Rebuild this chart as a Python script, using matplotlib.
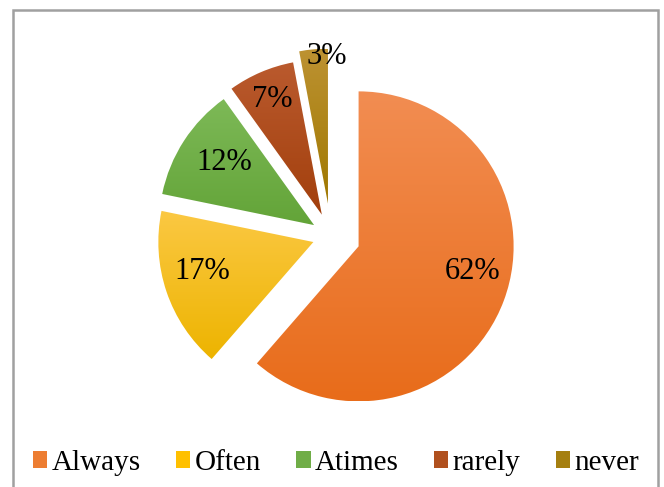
import numpy as np
import matplotlib.pyplot as plt
from matplotlib.colors import LinearSegmentedColormap
from matplotlib.patches import Patch, Rectangle

categories = ['Always', 'Often', 'Atimes', 'rarely', 'never']
shares = [62, 17, 12, 7, 3]

# slice shading: lighter at the top, deeper at the bottom
top_colors = ['#F28D52', '#FBC843', '#7DB957', '#BA5A2E', '#BD9232']
bottom_colors = ['#E86C1A', '#EDB400', '#63A438', '#A23F0C', '#9F7800']
key_colors = ['#ED7D31', '#FFC000', '#70AD47', '#B0501E', '#A57F10']
explode = [0.19, 0.12, 0.13, 0.15, 0.21]
label_r = [0.75, 0.74, 0.71, 0.81, 0.95]
label_turn = [8, -4, -2, 0, -5]

plt.rcParams['font.family'] = ['Liberation Serif', 'DejaVu Serif']

fig = plt.figure(figsize=(6.64, 4.87), dpi=100)
ax = fig.add_axes([0, 0, 1, 1])

wedges, _ = ax.pie(shares, startangle=90, counterclock=False,
                   explode=explode, radius=1)

for w, c_top, c_bot in zip(wedges, top_colors, bottom_colors):
    bb = w.get_path().get_extents()
    cmap = LinearSegmentedColormap.from_list('shade', [c_bot, c_top])
    grad = np.linspace(0, 1, 256).reshape(-1, 1)
    im = ax.imshow(grad, cmap=cmap, origin='lower', aspect='auto',
                   extent=(bb.x0, bb.x1, bb.y0, bb.y1), zorder=1)
    im.set_clip_path(w)
    w.set_facecolor('none')
    w.set_edgecolor('none')

for w, v, rr, turn in zip(wedges, shares, label_r, label_turn):
    mid = np.deg2rad((w.theta1 + w.theta2) / 2 + turn)
    cx, cy = w.center
    ax.text(cx + rr * np.cos(mid), cy + rr * np.sin(mid), f'{v}%',
            ha='center', va='center', fontsize=22, zorder=3)

ax.set_xlim(-2.135, 2.148)
ax.set_ylim(-1.619, 1.523)
ax.set_aspect('auto')
ax.axis('off')

handles = [Patch(facecolor=c, edgecolor='none') for c in key_colors]
fig.legend(handles, categories, loc='center', bbox_to_anchor=(0.506, 0.05),
           ncol=5, frameon=False, fontsize=21, handlelength=0.5,
           handleheight=0.5, handletextpad=0.15, columnspacing=1.2)

# chart frame, open at the bottom
fig.add_artist(Rectangle((12.5 / 664, -0.05), (658 - 12.5) / 664, 1.05 - 9.5 / 487,
                         transform=fig.transFigure, fill=False,
                         edgecolor='#A0A0A0', linewidth=1.8, clip_on=False))

fig.savefig('out.png', dpi=100)
